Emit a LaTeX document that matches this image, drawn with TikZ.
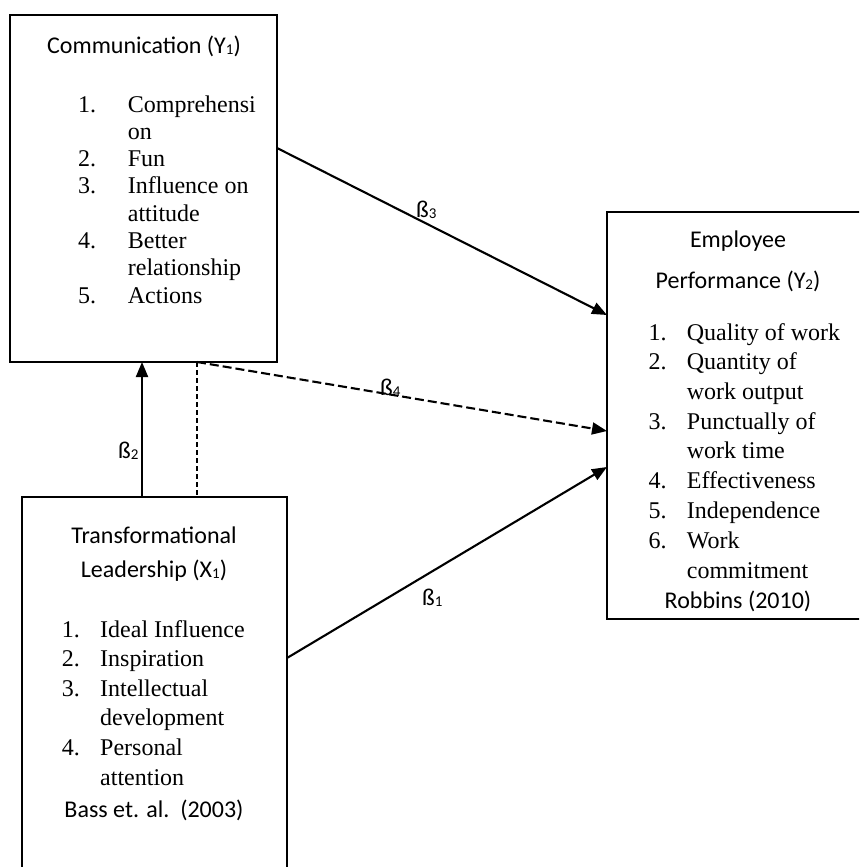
\documentclass[tikz,border=0pt]{standalone}
\usepackage{fontspec}
\setmainfont{Liberation Serif}
\newfontfamily\calfont{Carlito}
\usetikzlibrary{arrows.meta,calc}
\newcommand\lowsub[1]{\raisebox{-1.5pt}{\fontsize{15}{15}\selectfont #1}}
\begin{document}
\begin{tikzpicture}[x=1pt,y=-1pt,
  boxnode/.style={draw=black,line width=2pt,rectangle,inner sep=0pt,outer sep=0pt},
  item/.style={anchor=base west,inner sep=0pt,font=\fontsize{24}{28}\selectfont},
  head/.style={anchor=base,inner sep=0pt,font=\calfont\fontsize{24}{28}\selectfont},
  lbl/.style={anchor=base west,inner sep=0pt,font=\calfont\fontsize{24}{28}\selectfont},
  arr/.style={line width=2.1pt,-{Triangle[length=15pt,width=12pt]}},
  dasharr/.style={arr,dash pattern=on 9pt off 4pt},
  thindash/.style={line width=1.2pt,dash pattern=on 5pt off 3pt}]
\useasboundingbox (0,0) rectangle (859,867);
\fill[white] (0,0) rectangle (859,867);
\clip (0,0) rectangle (859,867);

% boxes
\node[boxnode,minimum width=267pt,minimum height=347pt] (comm) at (143.5,188.5) {};
\node[boxnode,minimum width=262pt,minimum height=407pt] (emp) at (738,415.5) {};
\node[boxnode,minimum width=265pt,minimum height=400pt] (trans) at (154.5,697) {};

% Communication box text
\node[head] (commh) at (144,53) {Communication (Y\lowsub{1})};
\node[item] (cn1) at (78,112) {1.};
\node[item] (ct1) at (127.7,112) {Comprehensi};
\node[item] (ct1b) at (127.7,139.3) {on};
\node[item] (cn2) at (78,166.6) {2.};
\node[item] (ct2) at (127.7,166.6) {Fun};
\node[item] (cn3) at (78,193.9) {3.};
\node[item] (ct3) at (127.7,193.9) {Influence on};
\node[item] (ct3b) at (127.7,221.2) {attitude};
\node[item] (cn4) at (78,248.5) {4.};
\node[item] (ct4) at (127.7,248.5) {Better};
\node[item] (ct4b) at (127.7,275.8) {relationship};
\node[item] (cn5) at (78,303) {5.};
\node[item] (ct5) at (127.7,303) {Actions};

% Employee box text
\node[head] (emph1) at (738,247) {Employee};
\node[head] (emph2) at (738,288) {Performance (Y\lowsub{2})};
\node[item] (en1) at (648.3,340) {1.};
\node[item] (et1) at (686.7,340) {Quality of work};
\node[item] (en2) at (648.3,369.7) {2.};
\node[item] (et2) at (686.7,369.7) {Quantity of};
\node[item] (et2b) at (686.7,399.4) {work output};
\node[item] (en3) at (648.3,429.1) {3.};
\node[item] (et3) at (686.7,429.1) {Punctually of};
\node[item] (et3b) at (686.7,458.8) {work time};
\node[item] (en4) at (648.3,488.5) {4.};
\node[item] (et4) at (686.7,488.5) {Effectiveness};
\node[item] (en5) at (648.3,518.2) {5.};
\node[item] (et5) at (686.7,518.2) {Independence};
\node[item] (en6) at (648.3,548) {6.};
\node[item] (et6) at (686.7,548) {Work};
\node[item] (et6b) at (686.7,578) {commitment};
\node[head] (empref) at (738,608) {Robbins (2010)};

% Transformational box text
\node[head] (transh1) at (154,543) {Transformational};
\node[head] (transh2) at (154,577) {Leadership (X\lowsub{1})};
\node[item] (tn1) at (61.7,637) {1.};
\node[item] (tt1) at (100,637) {Ideal Influence};
\node[item] (tn2) at (61.7,666.6) {2.};
\node[item] (tt2) at (100,666.6) {Inspiration};
\node[item] (tn3) at (61.7,696.2) {3.};
\node[item] (tt3) at (100,696.2) {Intellectual};
\node[item] (tt3b) at (100,725.8) {development};
\node[item] (tn4) at (61.7,755.4) {4.};
\node[item] (tt4) at (100,755.4) {Personal};
\node[item] (tt4b) at (100,785) {attention};
\node[head] (transref) at (154,817) {Bass et. al.\ \ (2003)};

% connectors
\draw[arr] ($(comm.north east)+(0,133)$) -- ($(emp.north west)+(0,103)$);
\draw[dasharr] ($(comm.south west)+(187,0)$) -- ($(emp.north west)+(0,219)$);
\draw[thindash] ($(comm.south west)+(187,0)$) -- ($(trans.north west)+(175,0)$);
\draw[arr] ($(trans.north west)+(120,0)$) -- ($(comm.south west)+(132,0)$);
\draw[arr] ($(trans.north east)+(0,161)$) -- ($(emp.north west)+(0,255)$);

% labels
\node[lbl] (b3) at (416,217) {ß\lowsub{3}};
\node[lbl] (b4) at (380,395) {ß\lowsub{4}};
\node[lbl] (b1) at (422,605) {ß\lowsub{1}};
\node[lbl] (b2) at (118,458) {ß\lowsub{2}};
\end{tikzpicture}
\end{document}
